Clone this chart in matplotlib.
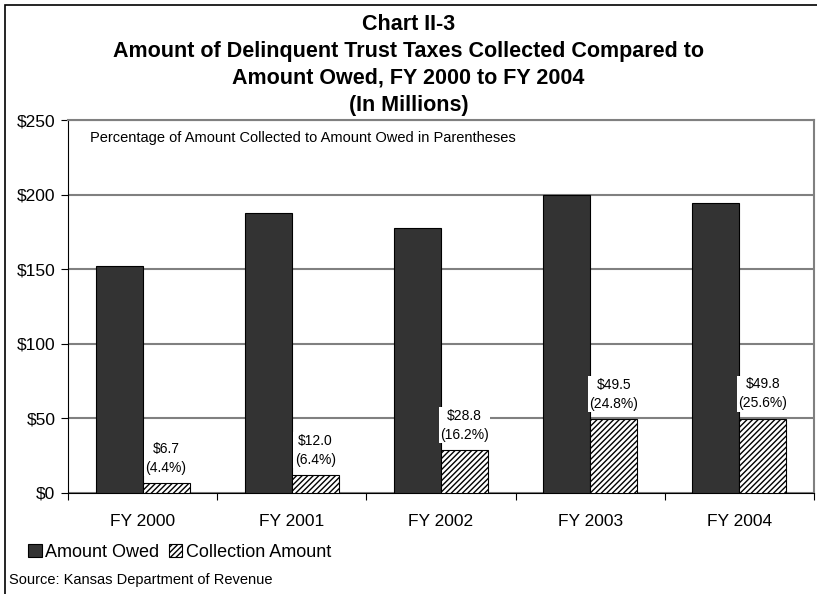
import numpy as np
import matplotlib.pyplot as plt
from matplotlib.patches import Rectangle

plt.rcParams['font.family'] = ['Liberation Sans', 'DejaVu Sans']
plt.rcParams['hatch.linewidth'] = 1.0

years = ["FY 2000", "FY 2001", "FY 2002", "FY 2003", "FY 2004"]
owed = [152.3, 187.5, 177.8, 199.6, 194.5]
collected = [6.7, 12.0, 28.8, 49.5, 49.8]
pct = [4.4, 6.4, 16.2, 24.8, 25.6]

W, H = 817, 594
fig = plt.figure(figsize=(W / 100, H / 100), dpi=100)
ax = fig.add_axes([68 / W, 1 - 493 / H, (814 - 68) / W, (493 - 120) / H])

x = np.arange(len(years))
w = 0.315
ax.bar(x - w / 2, owed, w, color='#333333', edgecolor='black', linewidth=0.8,
       label='Amount Owed', zorder=3)
ax.bar(x + w / 2, collected, w, color='white', edgecolor='black', linewidth=0.8,
       hatch='//////', label='Collection Amount', zorder=3)

for xi, c, p in zip(x, collected, pct):
    ax.annotate(f"${c:.1f}\n({p}%)", (xi + w / 2, c), xytext=(0, 6),
                textcoords='offset points', ha='center', va='bottom', fontsize=10,
                linespacing=1.45, zorder=4,
                bbox=dict(facecolor='white', edgecolor='none', pad=1))

ax.set_ylim(0, 250)
ax.set_xlim(-0.5, len(years) - 0.5)
ax.set_yticks(range(0, 251, 50))
ax.set_yticklabels([f"${v}" for v in range(0, 251, 50)], fontsize=12.5)
ax.yaxis.grid(True, color='#808080', linewidth=1.5, zorder=0)
ax.tick_params(axis='y', direction='out', length=5, width=0.8, pad=4)

# boundary ticks between years, labels at centres
ax.set_xticks(np.arange(-0.5, len(years), 1))
ax.set_xticklabels([])
ax.set_xticks(x, minor=True)
ax.set_xticklabels(years, minor=True, fontsize=12.5)
ax.tick_params(axis='x', which='major', direction='out', length=5, width=0.8)
ax.tick_params(axis='x', which='minor', length=0, pad=15)

for s in ['top', 'right']:
    ax.spines[s].set_color('#808080')
    ax.spines[s].set_linewidth(1.5)
for s in ['left', 'bottom']:
    ax.spines[s].set_color('black')
    ax.spines[s].set_linewidth(0.8)

ax.text(0.029, 0.97, "Percentage of Amount Collected to Amount Owed in Parentheses",
        transform=ax.transAxes, fontsize=10.5, va='top', ha='left')

fig.text(0.5, 1 - 14 / H, "Chart II-3\nAmount of Delinquent Trust Taxes Collected Compared to\n"
         "Amount Owed, FY 2000 to FY 2004\n(In Millions)",
         ha='center', va='top', fontsize=15.5, fontweight='bold', linespacing=1.37)

fig.legend(loc='lower left', bbox_to_anchor=(21 / W, 1 - 568 / H), ncol=2, frameon=False,
           fontsize=13, handlelength=0.75, handleheight=0.75, handletextpad=0.2,
           columnspacing=0.5, borderaxespad=0)

fig.text(9 / W, 1 - 580 / H, "Source: Kansas Department of Revenue", fontsize=10.5, va='center')

fig.patches.append(Rectangle((5 / W, -0.1), 1.2, 1.1 - 5 / H, transform=fig.transFigure,
                             fill=False, edgecolor='black', linewidth=1.2))

fig.savefig("out.png", dpi=100)
